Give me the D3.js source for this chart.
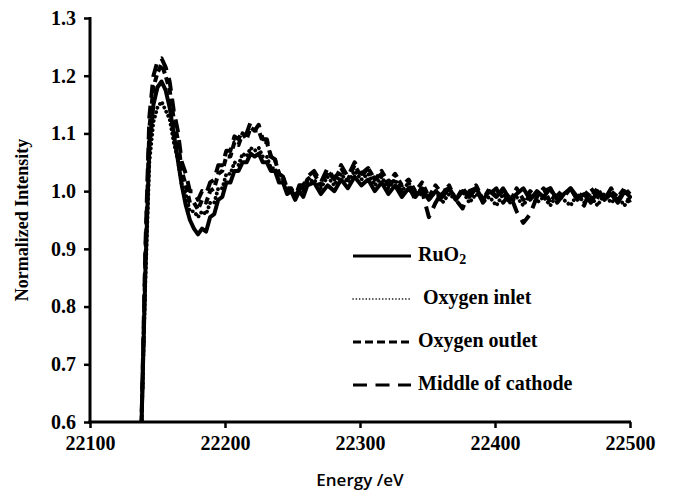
<!DOCTYPE html>
<html><head><meta charset="utf-8">
<script src="https://cdn.jsdelivr.net/npm/d3@7"></script>
<style>body{margin:0;background:#fff}svg{display:block}</style>
</head><body>
<script>
const energies = [22138,22141,22144,22147,22150,22153,22156,22159,22162,22165,22168,22171,22174,22177,22180,22183,22186,22189,22192,22195,22198,22201,22204,22207,22210,22213,22216,22219,22222,22225,22228,22231,22234,22237,22240,22243,22246,22249,22252,22255,22258,22261,
22266,22271,22276,22281,22286,22291,22296,22301,22306,22311,22316,22321,22326,22331,22336,22341,22346,22351,22356,22361,22366,22371,22376,22381,22386,22391,22396,22401,22406,22411,22416,22421,22426,22431,22436,22441,22446,22451,22456,22461,22466,22471,22476,22481,22486,22491,22496,22500];

const ruo2 = [0.58,0.86,1.08,1.15,1.18,1.19,1.175,1.145,1.10,1.055,
1.01,0.975,0.95,0.935,0.925,0.935,0.93,0.955,0.96,0.985,
0.99,1.015,1.015,1.035,1.035,1.05,1.05,1.065,1.06,1.065,
1.05,1.05,1.035,1.035,1.015,1.015,0.995,1.0,0.985,1.0,
0.99,1.01,
1.015,0.995,1.01,1.0,1.02,1.005,1.025,1.01,1.02,1.0,
1.015,0.995,1.01,0.99,1.005,0.99,1.005,0.985,1.0,0.99,
1.005,0.985,1.0,0.99,1.005,0.985,1.0,0.99,1.005,0.985,
0.995,1.005,0.985,1.0,0.99,1.005,0.985,0.995,1.005,0.985,
0.995,0.98,1.0,0.985,0.995,0.98,1.0,0.99];

const oxygenInlet = [0.58,0.84,1.05,1.12,1.145,1.155,1.14,1.125,1.085,1.055,
1.01,0.995,0.965,0.965,0.955,0.965,0.96,0.98,0.98,1.005,
1.005,1.03,1.03,1.05,1.045,1.065,1.06,1.075,1.07,1.075,
1.06,1.06,1.04,1.04,1.02,1.02,1.0,1.005,0.99,1.005,
1.0,1.015,
1.02,1.005,1.025,1.01,1.03,1.015,1.035,1.02,1.03,1.01,
1.025,1.005,1.02,1.0,1.015,0.995,1.005,0.985,1.0,0.98,
0.995,0.985,1.0,0.98,0.995,0.985,0.99,0.975,0.995,0.98,
0.99,0.975,0.995,0.98,0.99,0.975,0.995,0.985,0.975,0.995,
0.98,0.99,0.975,0.995,0.98,0.99,0.975,0.99];

const oxygenOutlet = [0.58,0.88,1.11,1.18,1.205,1.22,1.2,1.175,1.125,1.09,
1.035,1.01,0.98,0.98,0.968,0.985,0.98,1.0,1.005,1.03,
1.035,1.06,1.06,1.085,1.08,1.1,1.09,1.11,1.105,1.105,
1.085,1.085,1.06,1.055,1.03,1.025,1.005,1.005,0.99,1.005,
1.005,1.02,
1.03,1.01,1.035,1.02,1.04,1.02,1.045,1.025,1.04,1.02,
1.035,1.015,1.03,1.01,1.02,1.0,1.015,0.99,1.01,0.995,
1.01,0.985,1.005,0.99,1.01,0.985,1.005,0.99,1.0,0.98,
1.005,0.985,1.0,0.99,1.005,0.98,1.0,0.99,1.005,0.985,
1.0,0.99,1.005,0.985,1.0,0.99,1.005,0.995];

const middleCathode = [0.58,0.9,1.13,1.2,1.225,1.23,1.215,1.19,1.14,1.105,
1.05,1.03,1.0,1.0,0.985,1.0,0.995,1.015,1.02,1.045,
1.045,1.07,1.07,1.095,1.09,1.105,1.1,1.12,1.105,1.115,
1.09,1.09,1.06,1.055,1.03,1.025,1.0,1.0,0.99,1.01,
1.01,1.025,
1.035,1.015,1.04,1.02,1.045,1.025,1.05,1.03,1.04,1.02,
1.03,1.01,1.02,0.995,1.01,0.985,1.0,0.955,0.98,1.0,
1.005,0.985,0.97,1.0,1.005,0.98,0.995,1.005,0.98,0.995,
0.965,0.945,0.96,0.99,1.0,1.005,0.98,0.995,1.005,0.99,
0.975,1.005,0.99,0.985,1.005,0.985,1.0,0.98];

const seriesNames = ["RuO\u2082","Oxygen inlet","Oxygen outlet","Middle of cathode"];
const xTicks = [22100,22200,22300,22400,22500];
const yTicks = [0.6,0.7,0.8,0.9,1.0,1.1,1.2,1.3];

const W = 673, H = 492;
const svg = d3.select("body").append("svg").attr("width", W).attr("height", H);
const x = d3.scaleLinear().domain([22100,22500]).range([90,630]);
const y = d3.scaleLinear().domain([0.6,1.3]).range([422,18]);

svg.append("clipPath").attr("id","clip").append("rect")
  .attr("x",90).attr("y",y(1.3)).attr("width",542).attr("height",y(0.6)-y(1.3));

const styles = [
  {dash:null, w:4, cap:"round", lw:3, lcap:"butt", ldash:null},
  {dash:"0.1 4.5", w:3.8, cap:"round", lw:1.6, lcap:"round", ldash:"0.1 3.2"},
  {dash:"7 4", w:4, cap:"butt", lw:3, lcap:"butt", ldash:"8 4"},
  {dash:"13 8", w:4, cap:"butt", lw:3, lcap:"butt", ldash:"14 8.5"}
];
const allSeries = [ruo2, oxygenInlet, oxygenOutlet, middleCathode];

const line = d3.line().x(d=>x(d[0])).y(d=>y(d[1]));
const g = svg.append("g").attr("clip-path","url(#clip)");
allSeries.forEach((vals,i)=>{
  const pts = energies.map((e,k)=>[e, vals[k]]);
  g.append("path").datum(pts).attr("d", line)
    .attr("fill","none").attr("stroke","#000")
    .attr("stroke-width", styles[i].w)
    .attr("stroke-linecap", styles[i].cap)
    .attr("stroke-linejoin","round")
    .attr("stroke-dasharray", styles[i].dash);
});

// axes
const yAxis = d3.axisLeft(y).tickValues(yTicks).tickFormat(d3.format(".1f")).tickSize(6).tickPadding(8);
const xAxis = d3.axisBottom(x).tickValues(xTicks).tickFormat(d3.format("d")).tickSize(6).tickPadding(8);
const ya = svg.append("g").attr("transform","translate(90,0)").call(yAxis);
const xa = svg.append("g").attr("transform","translate(0,422)").call(xAxis);
[ya, xa].forEach(a=>{
  a.select(".domain").attr("stroke","#000").attr("stroke-width",3);
  a.selectAll(".tick line").attr("stroke","#000").attr("stroke-width",2.5);
  a.selectAll("text").attr("font-family","'Liberation Serif', 'Times New Roman', serif")
    .attr("font-weight","bold").attr("font-size",20).attr("fill","#000");
});
ya.select(".domain").attr("d","M0,"+(y(1.3)-1)+"V"+(y(0.6)+1.5));
xa.select(".domain").attr("d","M88.5,0H"+(x(22500)+1));

svg.append("text").attr("transform","translate(24,"+((y(1.3)+y(0.6))/2)+") rotate(-90)")
  .attr("text-anchor","middle").attr("dominant-baseline","middle")
  .attr("font-family","'Liberation Serif', 'Times New Roman', serif").attr("font-weight","bold")
  .attr("font-size",18).text("Normalized Intensity");

svg.append("text").attr("x",(x(22100)+x(22500))/2).attr("y",481)
  .attr("text-anchor","middle").attr("dominant-baseline","middle")
  .attr("font-family","'Open Sans', sans-serif").attr("font-weight",600).attr("font-size",17).text("Energy /eV");

// legend
const legY = [256,299,342,385];
seriesNames.forEach((name,i)=>{
  svg.append("line").attr("x1",353).attr("x2",411).attr("y1",legY[i]).attr("y2",legY[i])
    .attr("stroke","#000").attr("stroke-width",styles[i].lw)
    .attr("stroke-linecap",styles[i].lcap).attr("stroke-dasharray",styles[i].ldash);
  const t = svg.append("text").attr("x", i===1?423:418).attr("y",legY[i]).attr("dominant-baseline","middle")
    .attr("font-family","'Liberation Serif', 'Times New Roman', serif").attr("font-weight","bold")
    .attr("font-size",20);
  if(i===0){
    t.append("tspan").text("RuO");
    t.append("tspan").attr("font-size",14).attr("dy",5).text("2");
  } else t.text(name);
});
</script>
</body></html>
